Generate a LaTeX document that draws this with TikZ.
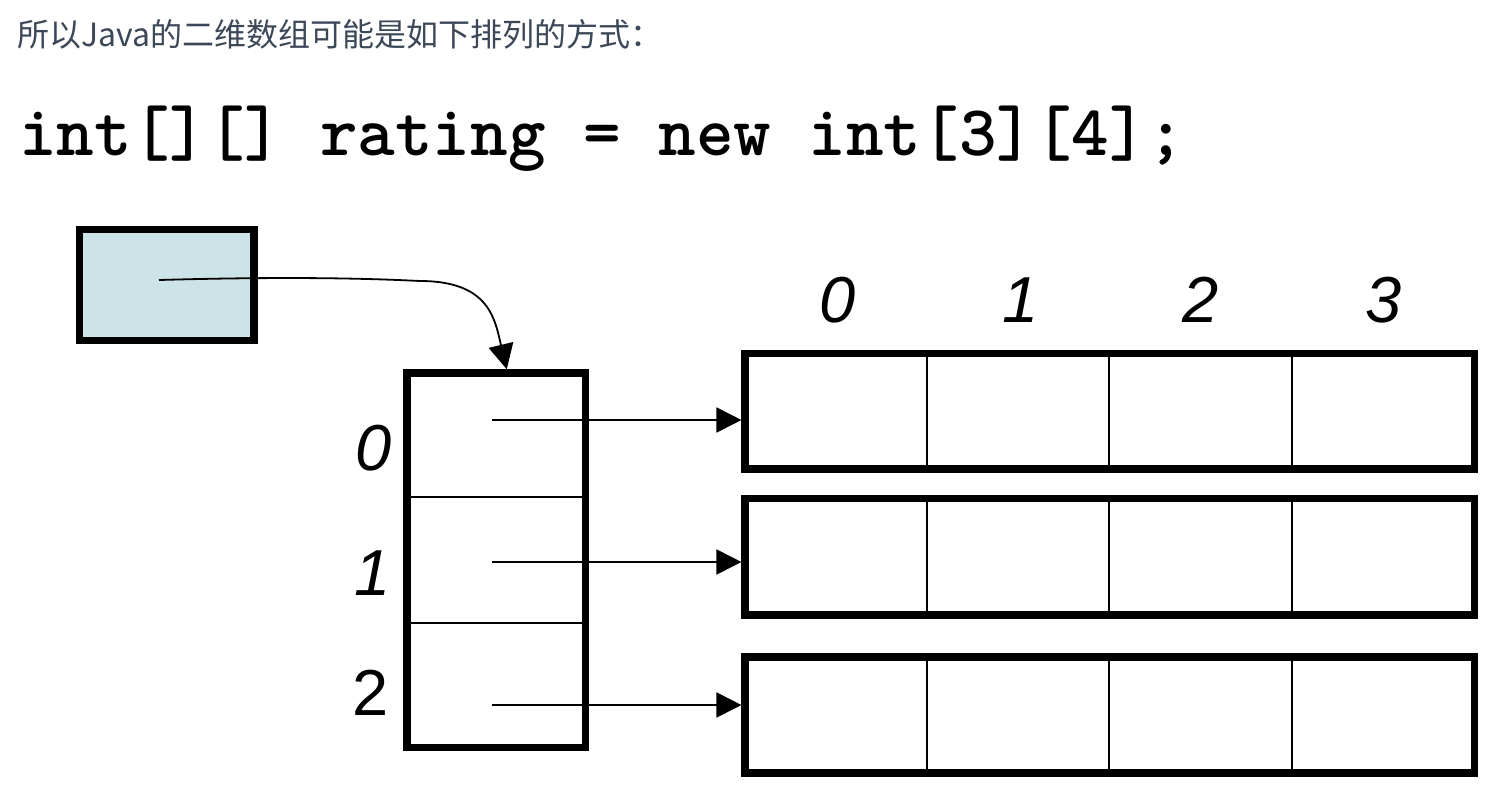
\documentclass[tikz,border=0pt]{standalone}
\usepackage{fontspec}
\usetikzlibrary{arrows.meta}
\newfontfamily\cjkfont{Noto Sans CJK SC}
\newfontfamily\labfont{Liberation Sans}
\definecolor{introcol}{RGB}{60,72,88}
\definecolor{ptrfill}{RGB}{204,228,232}
\begin{document}
\begin{tikzpicture}[x=0.5pt,y=-0.5pt,
  thickbox/.style={draw=black,line width=3.75pt,inner sep=0pt,fill=white},
  ptrbox/.style={thickbox,fill=ptrfill,minimum width=87.15pt,minimum height=55.5pt},
  rowbox/.style={thickbox,minimum width=364.55pt},
  thinline/.style={line width=1pt},
  conn/.style={line width=0.9pt,-{Triangle[length=12.5pt,width=12.5pt]}},
  idx/.style={font=\labfont\fontsize{32.5pt}{36pt}\selectfont\itshape,inner sep=0pt,anchor=center},
  idxup/.style={font=\labfont\fontsize{32.5pt}{36pt}\selectfont,inner sep=0pt,anchor=center}]
\useasboundingbox (0,0) rectangle (1490,794);
\fill[white] (0,0) rectangle (1490,794);

% texts
\node[anchor=base west,inner sep=0pt,text=introcol,font=\cjkfont\fontsize{16pt}{19pt}\selectfont] (intro) at (17,46) {所以Java的二维数组可能是如下排列的方式：};
\node[anchor=base west,inner sep=0pt,font=\ttfamily\bfseries\fontsize{35.8pt}{40pt}\selectfont] (code) at (19,155) {int[][] rating = new int[3][4];};

% pointer box
\node[ptrbox] (ptr) at (166.65,285) {};
\coordinate (pstart) at (159,280);

% left array
\node[thickbox,minimum width=89.15pt,minimum height=187.25pt] (arr) at (496.35,560.25) {};
\draw[thinline] (arr.west |- 0,496.7) -- (arr.east |- 0,496.7);
\draw[thinline] (arr.west |- 0,623.3) -- (arr.east |- 0,623.3);

% rows
\node[rowbox,minimum height=57.85pt] (row0) at (1109.75,411.35) {};
\node[rowbox,minimum height=58.15pt] (row1) at (1109.75,556.65) {};
\node[rowbox,minimum height=58pt] (row2) at (1109.75,715) {};
\foreach \r in {row0,row1,row2}{
  \foreach \xx in {927.3,1109.3,1291.7}{
    \draw[thinline] (\r.north -| \xx,0) -- (\r.south -| \xx,0);
  }
}

% index labels
\node[idx] (l0) at (374,448) {0};
\node[idx] (l1) at (373,573) {1};
\node[idxup] (l2) at (371,693) {2};
\node[idx] (c0) at (838,300) {0};
\node[idx] (c1) at (1021,300) {1};
\node[idx] (c2) at (1201,300) {2};
\node[idx] (c3) at (1384,300) {3};

% connectors
\coordinate (a0) at (491.7,420);
\coordinate (a1) at (491.7,562);
\coordinate (a2) at (491.7,705);
\draw[conn] (a0) -- (a0 -| row0.west);
\draw[conn] (a1) -- (a1 -| row1.west);
\draw[conn] (a2) -- (a2 -| row2.west);
\draw[conn] (pstart) .. controls (300,276) and (380,279) .. (420,281) .. controls (490,281) and (495,320) .. ([xshift=5.2pt]arr.north);
\end{tikzpicture}
\end{document}
